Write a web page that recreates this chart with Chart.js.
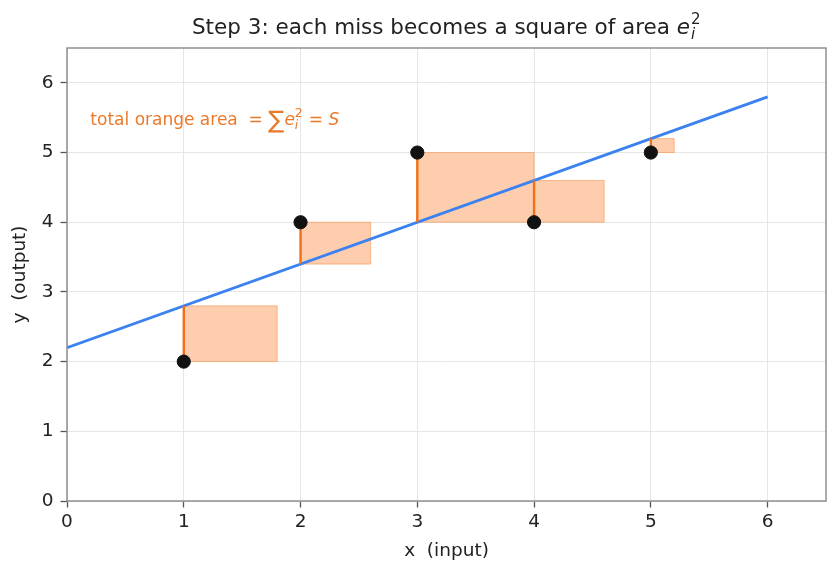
<!DOCTYPE html>
<html><head><meta charset="utf-8">
<script src="https://cdn.jsdelivr.net/npm/chart.js@4.4.1/dist/chart.umd.min.js"></script>
<style>html,body{margin:0;padding:0;background:#fff}#wrap{width:840px;height:574px}</style>
</head><body><div id="wrap"><canvas id="c" width="840" height="574"></canvas></div>
<script>
const xs = [1, 2, 3, 4, 5];
const ys = [2, 4, 5, 4, 5];
const intercept = 2.2;
const slope = 0.6;
const lineX = [0, 6];
const xTicks = [0, 1, 2, 3, 4, 5, 6];
const yTicks = [0, 1, 2, 3, 4, 5, 6];
const titleText = "Step 3: each miss becomes a square of area ";
const noteText = "total orange area  = ";

const preds = xs.map(x => intercept + slope * x);
const resid = ys.map((y, i) => y - preds[i]);

const FONT = "'DejaVu Sans', sans-serif";
const residData = [];
xs.forEach((x, i) => { residData.push({x: x, y: ys[i]}, {x: x, y: preds[i]}, {x: x, y: null}); });

const squaresPlugin = {
  id: 'squares',
  beforeDatasetsDraw(chart) {
    const {ctx, scales: {x: sx, y: sy}} = chart;
    ctx.save();
    xs.forEach((x, i) => {
      const s = Math.abs(resid[i]);
      const x0 = sx.getPixelForValue(x), x1 = sx.getPixelForValue(x + s);
      const y0 = sy.getPixelForValue(Math.min(ys[i], preds[i])), y1 = sy.getPixelForValue(Math.max(ys[i], preds[i]));
      ctx.fillStyle = 'rgba(251,160,100,0.52)';
      ctx.fillRect(x0, y1, x1 - x0, y0 - y1);
      ctx.strokeStyle = 'rgba(245,150,80,0.6)';
      ctx.lineWidth = 1;
      ctx.strokeRect(x0, y1, x1 - x0, y0 - y1);
    });
    ctx.restore();
  },
  afterDraw(chart) {
    const {ctx, chartArea: a, scales: {x: sx, y: sy}} = chart;
    ctx.save();
    // spines
    ctx.strokeStyle = '#888';
    ctx.lineWidth = 1.4;
    ctx.strokeRect(a.left, a.top, a.right - a.left, a.bottom - a.top);
    // title
    ctx.fillStyle = '#222';
    ctx.textBaseline = 'alphabetic';
    const TS = 21.5;
    ctx.font = TS + "px " + FONT;
    const w1 = ctx.measureText(titleText).width;
    ctx.font = "italic " + TS + "px " + FONT;
    const we = ctx.measureText('e').width;
    const total = w1 + we + 11;
    let tx = (a.left + a.right) / 2 - total / 2;
    const ty = 34;
    ctx.font = TS + "px " + FONT;
    ctx.fillText(titleText, tx, ty);
    tx += w1;
    ctx.font = "italic " + TS + "px " + FONT;
    ctx.fillText('e', tx, ty);
    tx += we + 1;
    ctx.font = "15px " + FONT;
    ctx.fillText('2', tx, ty - 10);
    ctx.font = "italic 15px " + FONT;
    ctx.fillText('i', tx, ty + 5);
    // note
    ctx.fillStyle = '#ea7a2a';
    const NS = 17;
    const nx0 = sx.getPixelForValue(0.2), ny = 125;
    let nx = nx0;
    ctx.font = NS + "px " + FONT;
    ctx.fillText(noteText, nx, ny);
    nx += ctx.measureText(noteText).width;
    ctx.font = "24px " + FONT;
    ctx.fillText('\u2211', nx, ny + 3);
    nx += ctx.measureText('\u2211').width;
    ctx.font = "italic " + NS + "px " + FONT;
    ctx.fillText('e', nx, ny);
    nx += ctx.measureText('e').width;
    ctx.font = "12.5px " + FONT;
    ctx.fillText('2', nx, ny - 8);
    ctx.font = "italic 12.5px " + FONT;
    ctx.fillText('i', nx, ny + 4);
    nx += 8.5;
    ctx.font = NS + "px " + FONT;
    ctx.fillText(' = ', nx, ny);
    nx += ctx.measureText(' = ').width;
    ctx.font = "italic " + NS + "px " + FONT;
    ctx.fillText('S', nx, ny);
    ctx.restore();
  }
};

new Chart(document.getElementById('c'), {
  type: 'scatter',
  data: {
    datasets: [
      {
        type: 'line',
        data: lineX.map(x => ({x: x, y: intercept + slope * x})),
        borderColor: '#3b82f0', borderWidth: 2.9, pointRadius: 0, fill: false, order: 3
      },
      {
        type: 'line',
        data: residData,
        borderColor: '#f2701a', borderWidth: 2.4, pointRadius: 0, spanGaps: false, fill: false, order: 2
      },
      {
        data: xs.map((x, i) => ({x: x, y: ys[i]})),
        backgroundColor: '#111', borderColor: '#111', pointRadius: 6.6, pointHoverRadius: 6.6, order: 1
      }
    ]
  },
  options: {
    responsive: false,
    animation: false,
    events: [],
    layout: {padding: {top: 48, right: 14, left: 0, bottom: 0}},
    plugins: {legend: {display: false}, tooltip: {enabled: false}, title: {display: false}},
    scales: {
      x: {
        type: 'linear', min: 0, max: 6.5,
        afterBuildTicks: s => { s.ticks = xTicks.map(v => ({value: v})); },
        afterFit: s => { s.height = 73; },
        grid: {color: '#e3e3e3', lineWidth: 0.9, tickColor: '#555', tickWidth: 1.3, tickLength: 6.5, drawOnChartArea: true},
        border: {display: false},
        ticks: {color: '#222', font: {family: FONT, size: 18.5}, padding: 4, maxRotation: 0},
        title: {display: true, text: 'x  (input)', color: '#222', font: {family: FONT, size: 18.5}, padding: {top: 4, bottom: 12}}
      },
      y: {
        type: 'linear', min: 0, max: 6.5,
        afterBuildTicks: s => { s.ticks = yTicks.map(v => ({value: v})); },
        afterFit: s => { s.width = 67; },
        grid: {color: '#e3e3e3', lineWidth: 0.9, tickColor: '#555', tickWidth: 1.3, tickLength: 6.5},
        border: {display: false},
        ticks: {color: '#222', font: {family: FONT, size: 18.5}, padding: 7},
        title: {display: true, text: 'y  (output)', color: '#222', font: {family: FONT, size: 18.5}, padding: {top: 9, bottom: 4}}
      }
    }
  },
  plugins: [squaresPlugin]
});
</script></body></html>
